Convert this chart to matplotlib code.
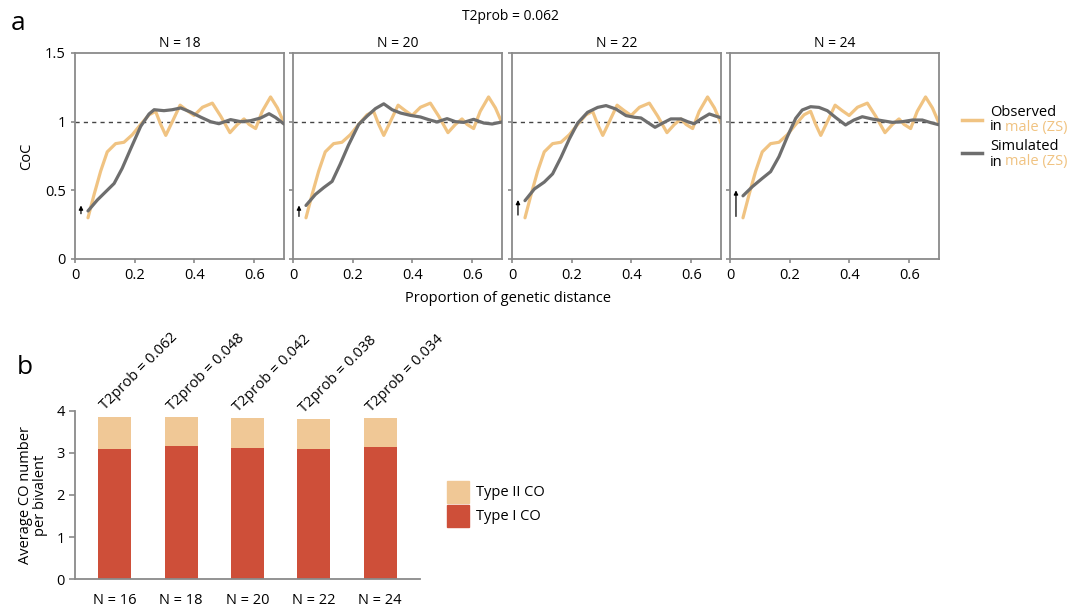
import matplotlib.pyplot as plt
from matplotlib.lines import Line2D
from matplotlib.patches import Rectangle

plt.rcParams['font.family'] = ['Open Sans', 'DejaVu Sans']

# ---- panel a: CoC curves ----
panel_titles = ['N = 18', 'N = 20', 'N = 22', 'N = 24']

obs_x = [0.0435, 0.064, 0.086, 0.108, 0.136, 0.164, 0.192, 0.22, 0.248, 0.27, 0.287, 0.304,
         0.326, 0.352, 0.376, 0.399, 0.427, 0.46, 0.488, 0.519, 0.544, 0.566, 0.583, 0.605,
         0.627, 0.655, 0.678, 0.70]
obs_y = [0.30, 0.47, 0.64, 0.78, 0.84, 0.85, 0.905, 0.98, 1.05, 1.075, 0.98, 0.90,
         1.0, 1.12, 1.08, 1.045, 1.105, 1.135, 1.04, 0.92, 0.98, 1.02, 0.98, 0.95,
         1.075, 1.18, 1.10, 0.99]

sim18_x = [0.0435, 0.075, 0.103, 0.131, 0.158, 0.186, 0.22, 0.248, 0.265, 0.298, 0.326, 0.354,
           0.387, 0.42, 0.454, 0.482, 0.521, 0.555, 0.588, 0.622, 0.65, 0.672, 0.70]
sim18_y = [0.35, 0.43, 0.49, 0.55, 0.66, 0.80, 0.966, 1.056, 1.087, 1.08, 1.087, 1.10,
           1.07, 1.034, 1.0, 0.985, 1.015, 1.0, 1.007, 1.027, 1.058, 1.03, 0.983]

sim20_x = [0.0435, 0.075, 0.103, 0.131, 0.158, 0.186, 0.22, 0.248, 0.276, 0.304, 0.332, 0.36,
           0.393, 0.427, 0.454, 0.482, 0.516, 0.544, 0.572, 0.605, 0.639, 0.667, 0.70]
sim20_y = [0.39, 0.47, 0.52, 0.565, 0.69, 0.83, 0.98, 1.04, 1.095, 1.13, 1.087, 1.063,
           1.046, 1.034, 1.015, 0.998, 1.022, 1.0, 0.995, 1.017, 0.99, 0.983, 0.998]

sim22_x = [0.0435, 0.075, 0.108, 0.136, 0.164, 0.192, 0.22, 0.253, 0.287, 0.315, 0.348, 0.382,
           0.41, 0.432, 0.454, 0.479, 0.505, 0.532, 0.566, 0.588, 0.61, 0.633, 0.661, 0.683, 0.702]
sim22_y = [0.425, 0.51, 0.56, 0.62, 0.74, 0.874, 0.99, 1.068, 1.104, 1.117, 1.092, 1.044,
           1.032, 1.027, 0.995, 0.959, 0.99, 1.02, 1.02, 1.0, 0.985, 1.02, 1.056, 1.04, 1.027]

sim24_x = [0.0435, 0.075, 0.108, 0.136, 0.164, 0.192, 0.22, 0.242, 0.27, 0.298, 0.326, 0.354,
           0.387, 0.415, 0.443, 0.477, 0.51, 0.544, 0.578, 0.611, 0.644, 0.672, 0.702]
sim24_y = [0.46, 0.527, 0.587, 0.636, 0.745, 0.89, 1.024, 1.085, 1.109, 1.104, 1.08, 1.03,
           0.976, 1.012, 1.036, 1.019, 1.007, 0.995, 1.0, 1.012, 1.012, 0.993, 0.976]

sim_x = [sim18_x, sim20_x, sim22_x, sim24_x]
sim_y = [sim18_y, sim20_y, sim22_y, sim24_y]

# little arrows at the start (observed -> simulated)
arrow_lo = [0.33, 0.31, 0.32, 0.31]
arrow_hi = [0.39, 0.39, 0.43, 0.50]

# ---- panel b: stacked bars ----
bar_labels = ['N = 16', 'N = 18', 'N = 20', 'N = 22', 'N = 24']
t2prob = ['0.062', '0.048', '0.042', '0.038', '0.034']
type1 = [3.08, 3.17, 3.12, 3.09, 3.13]
type2 = [0.78, 0.68, 0.70, 0.71, 0.69]

OBS_C = '#F0C382'
SIM_C = '#6E6E6E'
SPINE_C = '#8A8A8A'
RED = '#CE4F39'
TAN = '#F0C896'

W, H = 1075, 615
fig = plt.figure(figsize=(10.75, 6.15), dpi=100)

def fx(px):
    return px / W

def fy(py):
    return 1 - py / H

lefts = [75, 293, 512, 730]
for i, left in enumerate(lefts):
    ax = fig.add_axes([fx(left), fy(259), 209 / W, 206 / H])
    ax.axhline(1, color='#444444', ls=(0, (3, 3)), lw=1, zorder=1)
    ax.plot(obs_x, obs_y, color=OBS_C, lw=2.3, solid_joinstyle='round',
            solid_capstyle='round', zorder=2)
    ax.plot(sim_x[i], sim_y[i], color=SIM_C, lw=2.3, solid_joinstyle='round',
            solid_capstyle='round', zorder=3)
    ax.annotate('', xy=(0.02, arrow_hi[i]), xytext=(0.02, arrow_lo[i]),
                arrowprops=dict(arrowstyle='-|>', color='black', lw=0.9,
                                mutation_scale=6, shrinkA=0, shrinkB=0))
    ax.set_xlim(0, 0.7)
    ax.set_ylim(0, 1.5)
    ax.set_xticks([0, 0.2, 0.4, 0.6])
    ax.set_xticklabels(['0', '0.2', '0.4', '0.6'])
    ax.set_yticks([0, 0.5, 1, 1.5])
    if i == 0:
        ax.set_yticklabels(['0', '0.5', '1', '1.5'])
        ax.set_ylabel('CoC', fontsize=10.5, labelpad=8)
    else:
        ax.set_yticklabels([])
    for s in ax.spines.values():
        s.set_color(SPINE_C)
        s.set_linewidth(1.3)
    ax.tick_params(colors=SPINE_C, labelcolor='black', labelsize=10.5, length=3, width=1.2)
    ax.set_title(panel_titles[i], fontsize=10, pad=4)

fig.text(fx(510), fy(16), 'T2prob = 0.062', ha='center', va='center', fontsize=10)
fig.text(fx(508), fy(298), 'Proportion of genetic distance', ha='center', va='center', fontsize=10.5)
fig.text(fx(18), fy(24), 'a', ha='center', va='center', fontsize=19)
fig.text(fx(25), fy(368), 'b', ha='center', va='center', fontsize=19)

# legend for panel a
fig.add_artist(Line2D([fx(962), fx(982)], [fy(120), fy(120)], color=OBS_C, lw=2.5))
fig.add_artist(Line2D([fx(962), fx(982)], [fy(153), fy(153)], color=SIM_C, lw=2.5))
for yy, word in [(112, 'Observed'), (147, 'Simulated')]:
    fig.text(fx(990), fy(yy), word, ha='left', va='center', fontsize=10.5)
    fig.text(fx(990), fy(yy + 15), 'in', ha='left', va='center', fontsize=10.5)
    fig.text(fx(1005), fy(yy + 15), 'male (ZS)', ha='left', va='center', fontsize=10.5, color=OBS_C)

# panel b
axb = fig.add_axes([fx(75), fy(579.3), (420 - 75) / W, (579.3 - 410.7) / H])
xs = range(len(bar_labels))
axb.bar(xs, type1, width=0.5, color=RED, label='Type I CO')
axb.bar(xs, type2, width=0.5, bottom=type1, color=TAN, label='Type II CO')
for i in xs:
    axb.text(i - 0.1, type1[i] + type2[i] + 0.08, 'T2prob = ' + t2prob[i], rotation=45,
             rotation_mode='anchor', ha='left', va='bottom', fontsize=10.5)
axb.set_xlim(-0.6, 4.6)
axb.set_ylim(0, 4)
axb.set_xticks(list(xs))
axb.set_xticklabels(bar_labels)
axb.set_yticks([0, 1, 2, 3, 4])
axb.spines['top'].set_visible(False)
axb.spines['right'].set_visible(False)
for s in ['left', 'bottom']:
    axb.spines[s].set_color(SPINE_C)
    axb.spines[s].set_linewidth(1.3)
axb.tick_params(axis='y', colors=SPINE_C, labelcolor='black', labelsize=10.5, length=4, width=1.2)
axb.tick_params(axis='x', length=0, labelsize=10.5, pad=10)
axb.set_ylabel('Average CO number\nper bivalent', fontsize=10.5, labelpad=6, linespacing=1.0)

# legend for panel b
fig.add_artist(Rectangle((fx(447), fy(503)), 22 / W, 22 / H, color=TAN, transform=fig.transFigure))
fig.add_artist(Rectangle((fx(447), fy(527)), 22 / W, 22 / H, color=RED, transform=fig.transFigure))
fig.text(fx(476), fy(493), 'Type II CO', ha='left', va='center', fontsize=10.5)
fig.text(fx(476), fy(516), 'Type I CO', ha='left', va='center', fontsize=10.5)

fig.savefig('out.png', dpi=100)
